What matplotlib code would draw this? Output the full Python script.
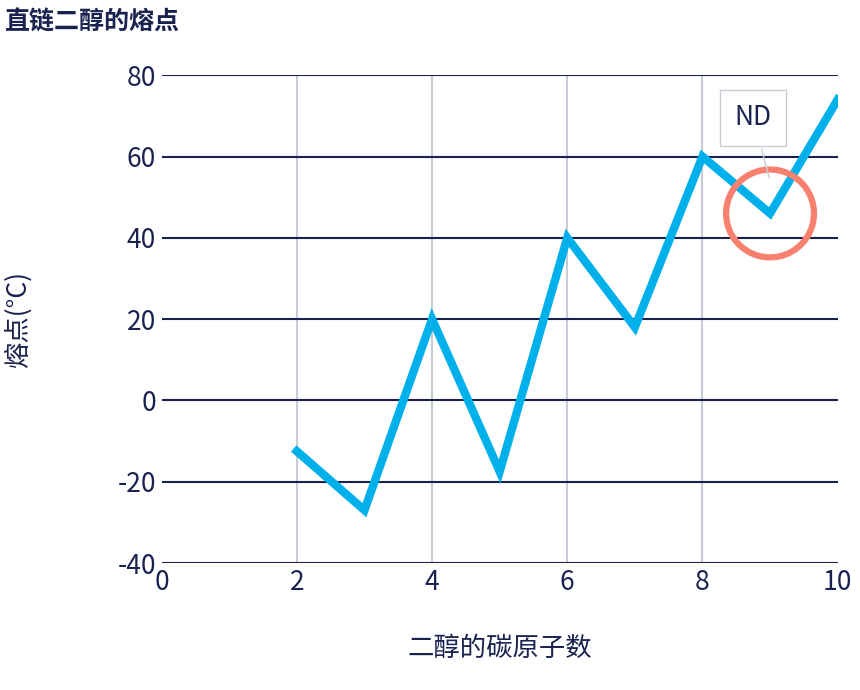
import matplotlib
matplotlib.use("Agg")
import matplotlib.pyplot as plt

plt.rcParams['font.family'] = ['Noto Sans CJK SC', 'DejaVu Sans']
plt.rcParams['axes.unicode_minus'] = False

carbons = [2, 3, 4, 5, 6, 7, 8, 9, 10]
melting = [-12.5, -27, 20, -17.5, 40, 18, 60, 46, 74]
xticks = [0, 2, 4, 6, 8, 10]
yticks = [-40, -20, 0, 20, 40, 60, 80]

navy = '#1a2350'
fig = plt.figure(figsize=(8.6, 6.9), dpi=100)
ax = fig.add_axes([0.188, 0.184, 0.786, 0.707])
ax.set_xlim(0, 10)
ax.set_ylim(-40, 80)
for y in yticks:
    ax.axhline(y, color=navy, lw=1.5, zorder=1)
for x in [2, 4, 6, 8]:
    ax.axvline(x, color='#c8ccd6', lw=1.5, zorder=0)
ax.plot(carbons, melting, color='#00b0ea', lw=6, zorder=3, solid_joinstyle='miter')
ax.scatter([9], [46], s=4000, facecolors='none', edgecolors='#f8806e', linewidths=4.5, zorder=4)
ax.annotate('ND', xy=(9, 54), xytext=(8.75, 69.5), ha='center', va='center',
            fontsize=19, color=navy,
            bbox=dict(boxstyle='square,pad=0.55', fc='white', ec='#c8ccd6', lw=1),
            arrowprops=dict(arrowstyle='-', color='#c8ccd6', lw=1), zorder=5)
for s in ax.spines.values():
    s.set_visible(False)
ax.set_xticks(xticks)
ax.set_yticks(yticks)
ax.tick_params(length=0, labelsize=19, labelcolor=navy, pad=4)
ax.set_xlabel('二醇的碳原子数', fontsize=19, color=navy, labelpad=28)
ax.set_ylabel('熔点(°C)', fontsize=19, color=navy, labelpad=62)
fig.text(0.006, 0.985, '直链二醇的熔点', fontsize=18, fontweight='bold', color=navy, va='top')
fig.savefig('out.png', dpi=100)
